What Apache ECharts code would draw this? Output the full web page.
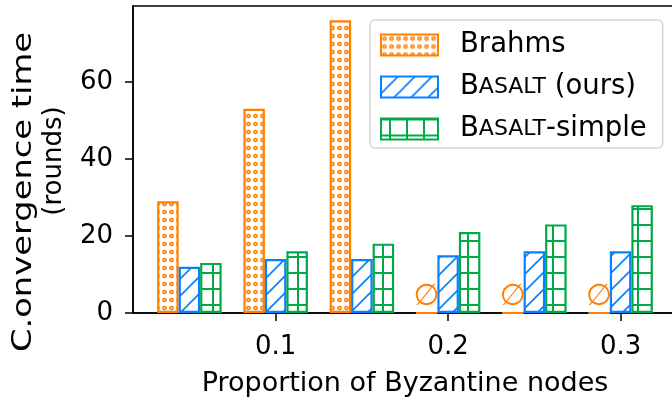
<!DOCTYPE html>
<html>
<head>
<meta charset="utf-8">
<script src="https://cdn.jsdelivr.net/npm/echarts@6/dist/echarts.min.js"></script>
<style>
  html, body { margin: 0; padding: 0; background: #fff; }
  #chart { width: 672px; height: 402px; }
</style>
</head>
<body>
<div id="chart"></div>
<script>
// proportion of byzantine nodes
const categories = [0.05, 0.10, 0.15, 0.20, 0.25, 0.30];
const brahms = [29, 53, 76, 0, 0, 0]; // 0 = no convergence (drawn as Ø)
const basalt = [12, 14, 14, 15, 16, 16];
const basaltSimple = [13, 16, 18, 21, 23, 28];
const xTicks = [0.1, 0.2, 0.3];
const yTicks = [0, 20, 40, 60];

const ORANGE = '#ff8000';
const BLUE = '#0a80ff';
const GREEN = '#00aa48';
const FONT = 'DejaVu Sans';

// hatch tiles
const makeTile = (w, h, draw) => {
  const c = document.createElement('canvas');
  c.width = w;
  c.height = h;
  draw(c.getContext('2d'), w, h);
  return c;
};

const dots = makeTile(7, 8, (ctx, w, h) => {
  ctx.fillStyle = 'rgba(255,128,0,0.45)';
  ctx.strokeStyle = ORANGE;
  ctx.lineWidth = 1.3;
  ctx.beginPath();
  ctx.arc(w / 2, h / 2, 1.7, 0, Math.PI * 2);
  ctx.fill();
  ctx.stroke();
});

const diag = makeTile(17, 17, (ctx, s) => {
  ctx.strokeStyle = BLUE;
  ctx.lineWidth = 1.7;
  ctx.beginPath();
  ctx.moveTo(-2, s + 2); ctx.lineTo(s + 2, -2);
  ctx.moveTo(-2, 2); ctx.lineTo(2, -2);
  ctx.moveTo(s - 2, s + 2); ctx.lineTo(s + 2, s - 2);
  ctx.stroke();
});

const cross = makeTile(17, 16.5, (ctx, w, h) => {
  ctx.strokeStyle = GREEN;
  ctx.lineWidth = 2;
  ctx.beginPath();
  ctx.moveTo(0, 1); ctx.lineTo(w, 1);
  ctx.moveTo(9, 0); ctx.lineTo(9, h);
  ctx.stroke();
});

const toPairs = (vals) => vals.map((v, i) => [categories[i], v]);

const barSeries = (name, vals, tile, color) => ({
  name,
  type: 'bar',
  data: toPairs(vals),
  barWidth: 21.5,
  barGap: '0%',
  itemStyle: {
    color: { image: tile, repeat: 'repeat' },
    borderColor: color,
    borderWidth: 2.2,
  },
});

const brahmsSeries = barSeries('Brahms', brahms, dots, ORANGE);
brahmsSeries.label = {
  show: true,
  position: 'top',
  distance: 0,
  color: ORANGE,
  fontFamily: FONT,
  fontSize: 30,
  formatter: (p) => (p.value[1] === 0 ? '\u2205' : ''),
};

const chart = echarts.init(document.getElementById('chart'), null, { renderer: 'canvas' });

chart.setOption({
  animation: false,
  backgroundColor: '#fff',
  textStyle: { fontFamily: FONT },
  grid: {
    left: 133,
    top: 6,
    width: 544,
    height: 307,
    outerBoundsMode: 'none',
    containLabel: false,
    show: true,
    borderColor: '#000',
    borderWidth: 1.5,
  },
  xAxis: {
    type: 'value',
    min: 0.0173,
    max: 0.3327,
    name: 'Proportion of Byzantine nodes',
    nameLocation: 'middle',
    nameGap: 57,
    nameTextStyle: { color: '#000', fontSize: 27, fontFamily: FONT },
    axisLine: { lineStyle: { color: '#000', width: 1.5 } },
    axisTick: { inside: false, length: 8, customValues: xTicks, lineStyle: { color: '#000', width: 1.5 } },
    axisLabel: {
      customValues: xTicks,
      margin: 21,
      color: '#000',
      fontSize: 26,
      fontFamily: FONT,
      formatter: (v) => v.toFixed(1),
    },
    splitLine: { show: false },
  },
  yAxis: {
    type: 'value',
    min: 0,
    max: 79.7,
    axisLine: { show: true, lineStyle: { color: '#000', width: 1.5 } },
    axisTick: { show: true, inside: false, length: 8, customValues: yTicks, lineStyle: { color: '#000', width: 1.5 } },
    axisLabel: {
      customValues: yTicks,
      margin: 20,
      color: '#000',
      fontSize: 26,
      fontFamily: FONT,
    },
    splitLine: { show: false },
  },
  legend: {
    orient: 'vertical',
    left: 370,
    top: 20,
    icon: 'rect',
    itemWidth: 57,
    itemHeight: 21,
    itemGap: 14,
    padding: [11, 16, 5, 10],
    backgroundColor: 'rgba(255,255,255,0.85)',
    borderColor: '#d6d6d6',
    borderWidth: 1.5,
    borderRadius: 5,
    textStyle: {
      color: '#000',
      fontSize: 27.5,
      fontFamily: FONT,
      padding: [0, 0, 0, 17],
      rich: {
        sc: { fontSize: 22, fontFamily: FONT, color: '#000' },
      },
    },
    formatter: (name) => {
      if (name === 'Basalt (ours)') return 'B{sc|ASALT} (ours)';
      if (name === 'Basalt-simple') return 'B{sc|ASALT}-simple';
      return name;
    },
  },
  graphic: [
    {
      type: 'text',
      x: 24,
      y: 192,
      rotation: Math.PI / 2,
      scaleX: 1.25,
      style: {
        text: 'C.onvergence time',
        font: '27px "DejaVu Sans"',
        fill: '#000',
        textAlign: 'center',
        textVerticalAlign: 'middle',
      },
    },
    {
      type: 'text',
      x: 54,
      y: 161,
      rotation: Math.PI / 2,
      style: {
        text: '(rounds)',
        font: '26px "DejaVu Sans"',
        fill: '#000',
        textAlign: 'center',
        textVerticalAlign: 'middle',
      },
    },
  ],
  series: [
    brahmsSeries,
    barSeries('Basalt (ours)', basalt, diag, BLUE),
    barSeries('Basalt-simple', basaltSimple, cross, GREEN),
  ],
});
</script>
</body>
</html>
